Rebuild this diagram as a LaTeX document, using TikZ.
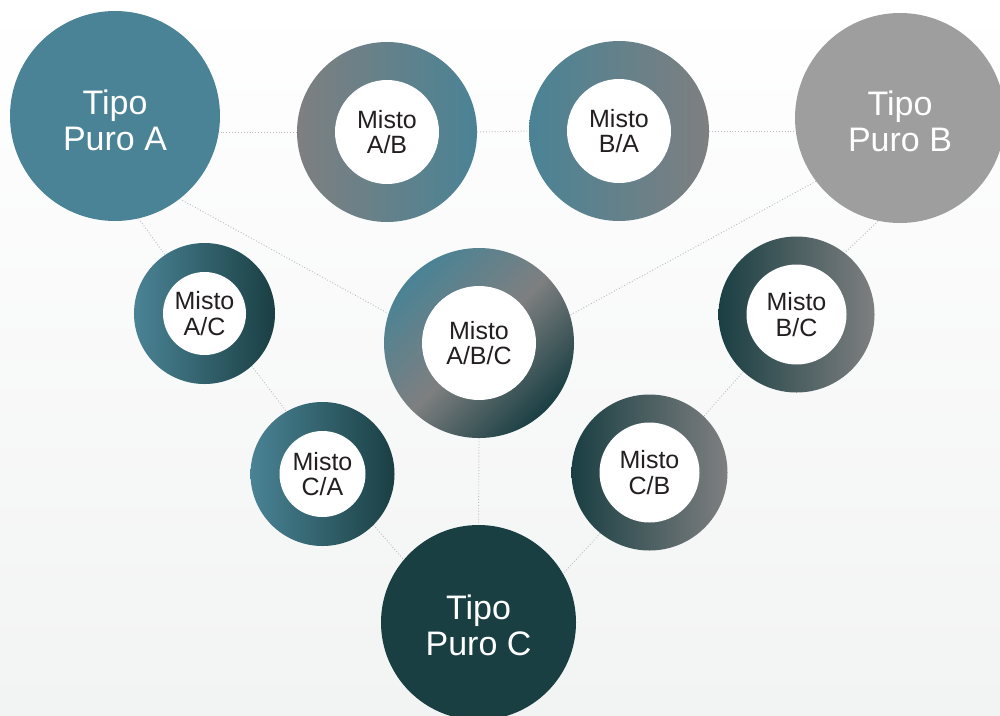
\documentclass[tikz,border=0pt]{standalone}
\usepackage{fontspec}
\setmainfont{Liberation Sans}
\usetikzlibrary{backgrounds}
\definecolor{tealA}{RGB}{74,131,149}
\definecolor{grayB}{RGB}{158,158,158}
\definecolor{darkC}{RGB}{26,63,67}
\definecolor{ringgray}{RGB}{126,127,128}
\definecolor{txt}{RGB}{35,31,32}
\definecolor{bgbot}{RGB}{242,243,243}
\definecolor{connc}{RGB}{185,188,190}
\pgfdeclarehorizontalshading{abcshade}{100bp}{color(0bp)=(tealA); color(25bp)=(tealA); color(50bp)=(ringgray); color(75bp)=(darkC); color(100bp)=(darkC)}
\begin{document}
\begin{tikzpicture}[x=1pt,y=-1pt,
  pure/.style={circle, inner sep=0pt, minimum size=#1, text=white,
    font=\fontsize{34}{36}\selectfont, align=center},
  ring/.style={circle, inner sep=0pt, minimum size=#1},
  hole/.style={circle, fill=white, inner sep=0pt, minimum size=#1, text=txt,
    font=\fontsize{25}{25.5}\selectfont, align=center},
  connector/.style={draw=connc, line width=0.9pt, dotted}]
\useasboundingbox (0,0) rectangle (1000,715);
\clip (0,0) rectangle (1000,715);

% pure types
\node[pure=210pt, fill=tealA] (A) at (115,116) {};
\node[text=white, font=\fontsize{34}{36}\selectfont, align=center] (At) at (115,120) {Tipo\\Puro A};
\node[pure=210pt, fill=grayB] (B) at (900,118) {};
\node[text=white, font=\fontsize{34}{36}\selectfont, align=center] (Bt) at (900,121) {Tipo\\Puro B};
\node[pure=195pt, fill=darkC] (C) at (478.5,622.5) {};
\node[text=white, font=\fontsize{34}{36}\selectfont, align=center] (Ct) at (478.5,625) {Tipo\\Puro C};

% mixed rings
\node[ring=180pt, left color=ringgray, right color=tealA] (AB) at (387,132) {};
\node[hole=104pt] (ABi) at (AB.center) {Misto\\A/B};

\node[ring=180pt, left color=tealA, right color=ringgray] (BA) at (619,131) {};
\node[hole=104pt] (BAi) at (BA.center) {Misto\\B/A};

\node[ring=141pt, left color=tealA, right color=darkC] (AC) at (204.5,313.5) {};
\node[hole=83pt] (ACi) at (AC.center) {Misto\\A/C};

\node[ring=190pt, shading=abcshade, shading angle=-45] (ABC) at (479,343) {};
\node[hole=114pt] (ABCi) at (ABC.center) {Misto\\A/B/C};

\node[ring=156pt, left color=darkC, right color=ringgray] (BC) at (796.5,314.5) {};
\node[hole=100pt] (BCi) at (BC.center) {Misto\\B/C};

\node[ring=144pt, left color=tealA, right color=darkC] (CA) at (322.5,474) {};
\node[hole=86pt] (CAi) at (CA.center) {Misto\\C/A};

\node[ring=156pt, left color=darkC, right color=ringgray] (CB) at (649.5,472.5) {};
\node[hole=100pt] (CBi) at (CB.center) {Misto\\C/B};

\begin{scope}[on background layer]
  \shade[top color=white, bottom color=bgbot] (0,0) rectangle (1000,715);
  \draw[connector] (AB.west) -- (A.east |- AB.west);
  \draw[connector] (AB.east) -- (BA.west);
  \draw[connector] (BA.east) -- (B.west |- BA.east);
  \draw[connector] (A.-52) -- (ABC.162);
  \draw[connector] (A.-77) -- (AC.124);
  \draw[connector] (AC.-48) -- (CA.120);
  \draw[connector] (CA.-45) -- (C.140);
  \draw[connector] (ABC.south) -- (C.north);
  \draw[connector] (B.217) -- (ABC.17);
  \draw[connector] (B.258) -- (BC.52);
  \draw[connector] (BC.227) -- (CB.46);
  \draw[connector] (CB.231) -- (C.30);
\end{scope}
\end{tikzpicture}
\end{document}
